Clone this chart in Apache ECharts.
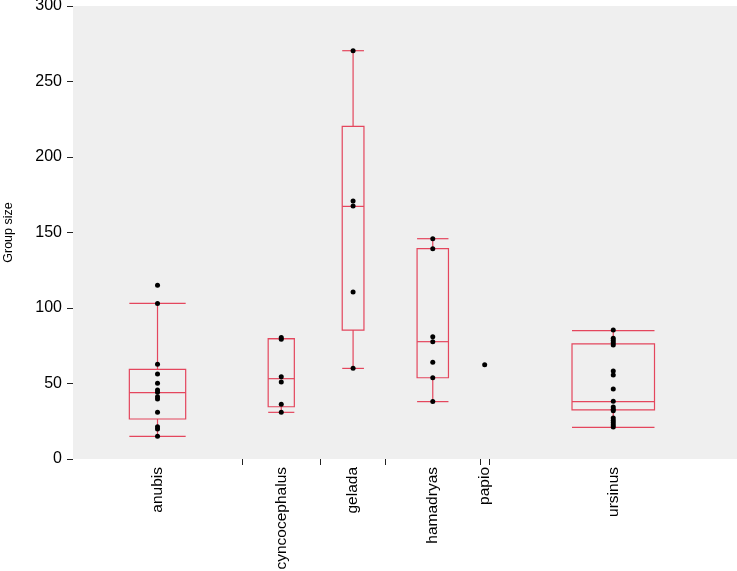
<!DOCTYPE html>
<html><head><meta charset="utf-8">
<script src="https://cdn.jsdelivr.net/npm/echarts@6/dist/echarts.min.js"></script>
<style>html,body{margin:0;padding:0;background:#fff}#c{width:737px;height:571px}</style>
</head><body><div id="c"></div>
<script>
// ---- data ----
const categories = ['anubis', 'cyncocephalus', 'gelada', 'hamadryas', 'papio', 'ursinus'];
// relative width of each category along the x axis (proportional to sample size)
const spans = [14, 6.5, 5.4, 7.8, 0.8, 20.5];
// [min, Q1, median, Q3, max] per category (null = no box)
const boxStats = [
  [15, 26.5, 43.9, 59.4, 103],
  [30.9, 34.6, 53.2, 79.7, 79.7],
  [60, 85.4, 167.3, 220.3, 270.4],
  [38, 53.8, 77.7, 139.3, 145.9],
  null,
  [21, 32.5, 38, 76.2, 85]
];
const anubis = [115, 103, 62.7, 56.3, 50.1, 45.7, 44.2, 41.3, 39.7, 30.9, 21.4, 19.8, 15];
const cyncocephalus = [80.4, 79.3, 54.5, 51, 36.2, 30.9];
const gelada = [270.4, 170.9, 167.5, 110.6, 60.1];
const hamadryas = [145.9, 139.3, 81, 77.7, 64, 53.8, 38];
const papio = [62.5];
const ursinus = [85.4, 80, 78.5, 77, 75.5, 58.3, 55.6, 46.4, 38.2, 34.5, 33, 32, 27.2, 25.5, 24, 22.5, 21.2];
const groupSizes = [anubis, cyncocephalus, gelada, hamadryas, papio, ursinus];
const yTicks = [0, 50, 100, 150, 200, 250, 300];

// ---- derived layout on the value x axis ----
const starts = [];
let acc = 0;
spans.forEach(s => { starts.push(acc); acc += s; });
const total = acc;
const centers = spans.map((s, i) => starts[i] + s / 2);
const boundaries = starts.slice(1);
const boxFrac = 1 / 3;

const boxData = [];
boxStats.forEach((st, i) => {
  if (st) boxData.push([centers[i], st[0], st[1], st[2], st[3], st[4], spans[i] * boxFrac / 2]);
});
const pointData = [];
groupSizes.forEach((arr, i) => arr.forEach(v => pointData.push([centers[i], v])));

const RED = '#e4465d';
const FONT = 'Liberation Sans, Arial, sans-serif';

function renderBox(params, api) {
  const c = api.value(0), hw = api.value(6);
  const mn = api.value(1), q1 = api.value(2), md = api.value(3), q3 = api.value(4), mx = api.value(5);
  const pL = v => api.coord([c - hw, v]);
  const pR = v => api.coord([c + hw, v]);
  const pC = v => api.coord([c, v]);
  const style = { stroke: RED, lineWidth: 1.2, fill: null };
  const line = (a, b) => ({ type: 'line', shape: { x1: a[0], y1: a[1], x2: b[0], y2: b[1] }, style: style });
  const tl = pL(q3), br = pR(q1);
  return {
    type: 'group',
    children: [
      line(pC(q3), pC(mx)),
      line(pC(q1), pC(mn)),
      line(pL(mx), pR(mx)),
      line(pL(mn), pR(mn)),
      { type: 'rect', shape: { x: tl[0], y: tl[1], width: br[0] - tl[0], height: br[1] - tl[1] }, style: { stroke: RED, lineWidth: 1.2, fill: 'rgba(0,0,0,0)' } },
      line(pL(md), pR(md))
    ]
  };
}

const chart = echarts.init(document.getElementById('c'), null, { renderer: 'canvas' });
chart.setOption({
  animation: false,
  backgroundColor: '#ffffff',
  grid: { left: 73, right: 0, top: 6, bottom: 112, show: true, backgroundColor: '#efefef', borderWidth: 0, containLabel: false, outerBoundsMode: 'none' },
  xAxis: {
    type: 'value', min: 0, max: total,
    axisLine: { show: false },
    splitLine: { show: false },
    axisTick: { show: true, customValues: boundaries, length: 6, lineStyle: { color: '#222', width: 1 } },
    axisLabel: {
      customValues: centers, rotate: 90, margin: 8, fontSize: 15.5, color: '#000',
      fontFamily: FONT,
      formatter: v => { const i = centers.findIndex(c => Math.abs(c - v) < 1e-6); return i >= 0 ? categories[i] : ''; }
    }
  },
  yAxis: {
    type: 'value', min: 0, max: 300, interval: 50,
    name: 'Group size', nameLocation: 'middle', nameGap: 58,
    nameTextStyle: { fontSize: 12.5, color: '#000', fontFamily: FONT },
    axisLine: { show: false },
    splitLine: { show: false },
    axisTick: { show: true, length: 6, customValues: yTicks, lineStyle: { color: '#222', width: 1 } },
    axisLabel: { customValues: yTicks, margin: 11, fontSize: 16, color: '#000', fontFamily: FONT }
  },
  series: [
    {
      type: 'custom', renderItem: renderBox, data: boxData,
      encode: { x: 0, y: [1, 2, 3, 4, 5] }, z: 2, silent: true
    },
    {
      type: 'scatter', data: pointData, symbolSize: 5,
      itemStyle: { color: '#000', opacity: 1 }, z: 3, silent: true
    }
  ]
});
</script></body></html>
